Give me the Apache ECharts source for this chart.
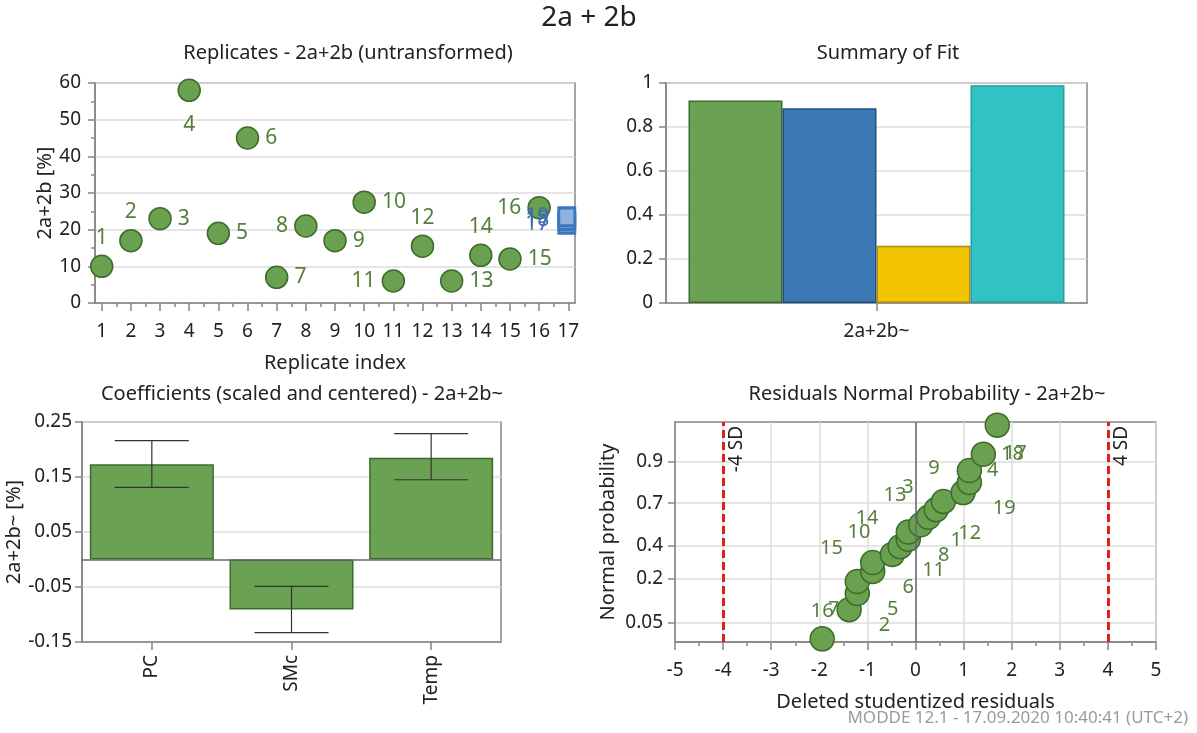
<!DOCTYPE html>
<html>
<head>
<meta charset="utf-8">
<script src="https://cdn.jsdelivr.net/npm/echarts@6/dist/echarts.min.js"></script>
<style>
html, body { margin: 0; padding: 0; background: #fff; }
#main { width: 1197px; height: 733px; }
</style>
</head>
<body>
<div id="main"></div>
<script>
// Replicates plot
var repIndex = [1, 2, 3, 4, 5, 6, 7, 8, 9, 10, 11, 12, 13, 14, 15, 16];
var repValues = [10, 17, 23, 58, 19, 45, 7, 21, 17, 27.5, 6, 15.5, 6, 13, 12, 26];
var repLabelPos = ['top', 'top', 'right', 'bottom', 'right', 'right', 'right', 'left',
                   'right', 'right', 'left', 'top', 'right', 'top', 'right', 'left'];
var centerIndex = [17, 17, 17];
var centerValues = [21.5, 22.5, 23.5];
var centerNames = ['17', '18', '19'];
var repTicks = [1, 2, 3, 4, 5, 6, 7, 8, 9, 10, 11, 12, 13, 14, 15, 16, 17];

// Summary of fit
var fitCategory = ['2a+2b~'];
var fitNames = ['R2', 'Q2', 'Model validity', 'Reproducibility'];
var fitValues = [0.92, 0.885, 0.26, 0.99];

// Coefficients
var coefTerms = ['PC', 'SMc', 'Temp'];
var coefValues = [0.173, -0.091, 0.185];
var coefLow = [0.131, -0.133, 0.145];
var coefHigh = [0.216, -0.049, 0.229];

// Residuals normal probability (sorted by rank)
var resX = [-1.94, -1.38, -1.21, -1.21, -0.89, -0.89, -0.48, -0.32, -0.15, -0.15,
            0.11, 0.27, 0.43, 0.58, 0.99, 1.12, 1.12, 1.41, 1.70];
var resProb = [0.026, 0.079, 0.132, 0.184, 0.237, 0.289, 0.342, 0.395, 0.447, 0.5,
               0.553, 0.605, 0.658, 0.711, 0.763, 0.816, 0.868, 0.921, 0.974];
var resNames = ['16', '2', '5', '7', '6', '15', '11', '10', '8', '14',
                '1', '12', '13', '3', '19', '9', '4', '18', '17'];
var resLabelSide = ['t', 'lr', 'lr', 'bl', 'lr', 'ul', 'lr', 'ul', 'lr', 'ul',
                    'lr', 'lr', 'ul', 'ul', 'lr', 'ul', 'r', 'r', 'br'];
var probTicks = [0.05, 0.2, 0.4, 0.7, 0.9];
var sdLimits = [-4, 4];

var FONT = "'Noto Sans', 'Open Sans', sans-serif";
var TXT = '#222';
var AXC = '#858585';
var GRIDC = '#dcdcdc';
var GREEN = '#6aa150', GREEN_B = '#3d6b2b', LBL_G = '#557f3b';
var TICK_FS = 19, TITLE_FS = 20, NAME_FS = 20;

// inverse normal (probit scale for the probability axis)
function probit(p) {
    var a = [-3.969683028665376e+01, 2.209460984245205e+02, -2.759285104469687e+02, 1.383577518672690e+02, -3.066479806614716e+01, 2.506628277459239e+00];
    var b = [-5.447609879822406e+01, 1.615858368580409e+02, -1.556989798598866e+02, 6.680131188771972e+01, -1.328068155833025e+01];
    var c = [-7.784894002430293e-03, -3.223964580411365e-01, -2.400758277161838e+00, -2.549671010335056e+00, 4.374664141464968e+00, 2.938163982698783e+00];
    var d = [7.784695709041462e-03, 3.224671290700398e-01, 2.445134137142996e+00, 3.754408661907416e+00];
    var pl = 0.02425, q, r;
    if (p < pl) {
        q = Math.sqrt(-2 * Math.log(p));
        return (((((c[0]*q+c[1])*q+c[2])*q+c[3])*q+c[4])*q+c[5]) / ((((d[0]*q+d[1])*q+d[2])*q+d[3])*q+1);
    }
    if (p > 1 - pl) {
        q = Math.sqrt(-2 * Math.log(1 - p));
        return -(((((c[0]*q+c[1])*q+c[2])*q+c[3])*q+c[4])*q+c[5]) / ((((d[0]*q+d[1])*q+d[2])*q+d[3])*q+1);
    }
    q = p - 0.5; r = q * q;
    return (((((a[0]*r+a[1])*r+a[2])*r+a[3])*r+a[4])*r+a[5])*q / (((((b[0]*r+b[1])*r+b[2])*r+b[3])*r+b[4])*r+1);
}
var probTickZ = probTicks.map(probit);

// where the residual point labels sit
var sideStyle = {
    t:  { position: 'top', offset: [0, 0] },
    lr: { position: 'right', offset: [12, 16] },
    ul: { position: 'left', offset: [-12, -14] },
    bl: { position: 'left', offset: [0, 28] },
    r:  { position: 'right', offset: [0, 0] },
    br: { position: 'bottom', offset: [18, 0] }
};

var halfTicks = [];
for (var i = 1; i < 17; i++) halfTicks.push(i + 0.5);

function axisBase(extra) {
    var o = {
        axisLine: { show: true, onZero: false, lineStyle: { color: AXC, width: 1.5 } },
        axisTick: { show: true, inside: false, length: 7, lineStyle: { color: AXC, width: 1.5 } },
        axisLabel: { color: TXT, fontSize: TICK_FS, fontFamily: FONT, margin: 12 },
        splitLine: { show: false },
        nameTextStyle: { color: TXT, fontSize: NAME_FS, fontFamily: FONT }
    };
    for (var k in extra) o[k] = extra[k];
    return o;
}
function titleAt(text, x, y, size) {
    return { text: text, left: x, top: y, textAlign: 'center',
             textStyle: { fontSize: size, fontWeight: 'normal', color: TXT, fontFamily: FONT } };
}

var myChart = echarts.init(document.getElementById('main'));

var option = {
    animation: false,
    backgroundColor: '#fff',
    textStyle: { fontFamily: FONT },
    title: [
        titleAt('2a + 2b', 584, -1, 28),
        titleAt('Replicates - 2a+2b (untransformed)', 343, 38, TITLE_FS),
        titleAt('Summary of Fit', 883, 38, TITLE_FS),
        titleAt('Coefficients (scaled and centered) - 2a+2b~', 297, 379, TITLE_FS),
        titleAt('Residuals Normal Probability - 2a+2b~', 922, 379, TITLE_FS)
    ],
    graphic: [{
        type: 'text', right: 9, top: 710,
        style: { text: 'MODDE 12.1 - 17.09.2020 10:40:41 (UTC+2)', fill: '#9a9a9a', font: '17px ' + FONT }
    }],
    grid: [
        { left: 95, top: 83, width: 480, height: 220, show: true, borderColor: AXC, borderWidth: 1.5 },
        { left: 666, top: 83, width: 421, height: 220, show: true, borderColor: AXC, borderWidth: 1.5 },
        { left: 82, top: 422, width: 419, height: 220, show: true, borderColor: AXC, borderWidth: 1.5 },
        { left: 675, top: 422, width: 481, height: 220, show: true, borderColor: AXC, borderWidth: 1.5 }
    ],
    xAxis: [
        axisBase({
            type: 'value', gridIndex: 0, min: 0.77, max: 17.23,
            name: 'Replicate index', nameLocation: 'middle', nameGap: 50,
            axisTick: { show: true, length: 8, customValues: repTicks, lineStyle: { color: AXC, width: 1.5 } },
            axisLabel: { color: TXT, fontSize: TICK_FS, fontFamily: FONT, margin: 19, customValues: repTicks }
        }),
        axisBase({
            type: 'category', gridIndex: 1, data: fitCategory,
            axisTick: { show: true, alignWithLabel: true, length: 8, lineStyle: { color: AXC, width: 1.5 } },
            axisLabel: { color: TXT, fontSize: TICK_FS, fontFamily: FONT, margin: 19 }
        }),
        axisBase({
            type: 'category', gridIndex: 2, data: coefTerms,
            axisTick: { show: true, alignWithLabel: true, length: 8, lineStyle: { color: AXC, width: 1.5 } },
            axisLabel: { color: TXT, fontSize: TICK_FS, fontFamily: FONT, rotate: 90, margin: 13 }
        }),
        axisBase({
            type: 'value', gridIndex: 3, min: -5, max: 5, interval: 1,
            name: 'Deleted studentized residuals', nameLocation: 'middle', nameGap: 50,
            axisTick: { show: true, length: 8, lineStyle: { color: AXC, width: 1.5 } },
            axisLabel: { color: TXT, fontSize: TICK_FS, fontFamily: FONT, margin: 19 },
            minorTick: { show: true, splitNumber: 2, length: 4, lineStyle: { color: AXC, width: 1.5 } },
            splitLine: { show: true, lineStyle: { color: GRIDC, width: 1.5 } }
        }),
        // minor ticks for the replicate axis
        {
            type: 'value', gridIndex: 0, min: 0.77, max: 17.23, position: 'bottom',
            axisLine: { show: false }, axisLabel: { show: false }, splitLine: { show: false },
            axisTick: { show: true, length: 4, customValues: halfTicks, lineStyle: { color: AXC, width: 1.5 } }
        }
    ],
    yAxis: [
        axisBase({
            type: 'value', gridIndex: 0, min: 0, max: 60, interval: 10,
            name: '2a+2b [%]', nameLocation: 'middle', nameGap: 40,
            axisLabel: { color: TXT, fontSize: TICK_FS, fontFamily: FONT, margin: 14 },
            minorTick: { show: true, splitNumber: 2, length: 4, lineStyle: { color: AXC, width: 1.5 } },
            splitLine: { show: true, lineStyle: { color: GRIDC, width: 1.5 } }
        }),
        axisBase({
            type: 'value', gridIndex: 1, min: 0, max: 1, interval: 0.2,
            axisLabel: { color: TXT, fontSize: TICK_FS, fontFamily: FONT, margin: 13 },
            splitLine: { show: true, lineStyle: { color: GRIDC, width: 1.5 } }
        }),
        axisBase({
            type: 'value', gridIndex: 2, min: -0.15, max: 0.25, interval: 0.1,
            name: '2a+2b~ [%]', nameLocation: 'middle', nameGap: 53,
            axisLabel: { color: TXT, fontSize: TICK_FS, fontFamily: FONT, margin: 10,
                formatter: function (v) { return (Math.round(v * 100) / 100).toFixed(2); } },
            splitLine: { show: true, lineStyle: { color: GRIDC, width: 1.5 } }
        }),
        axisBase({
            type: 'value', gridIndex: 3, min: -2, max: 2,
            name: 'Normal probability', nameLocation: 'middle', nameGap: 57,
            axisTick: { show: true, length: 7, customValues: probTickZ, lineStyle: { color: AXC, width: 1.5 } },
            axisLabel: { color: TXT, fontSize: TICK_FS, fontFamily: FONT, margin: 12, customValues: probTickZ,
                formatter: function (v) {
                    var best = 0;
                    for (var k = 1; k < probTickZ.length; k++) {
                        if (Math.abs(probTickZ[k] - v) < Math.abs(probTickZ[best] - v)) best = k;
                    }
                    return String(probTicks[best]);
                } },
            splitLine: { show: true, lineStyle: { color: GRIDC, width: 1.5 } }
        })
    ],
    series: [
        {
            type: 'scatter', xAxisIndex: 0, yAxisIndex: 0, symbolSize: 22, z: 3,
            itemStyle: { color: GREEN, borderColor: GREEN_B, borderWidth: 1.5, opacity: 1 },
            label: { show: true, color: LBL_G, fontSize: 21, fontFamily: FONT, distance: 6,
                formatter: function (p) { return String(p.value[0]); } },
            data: repIndex.map(function (x, i) {
                var pos = repLabelPos[i];
                return { value: [x, repValues[i]],
                         label: { position: pos, distance: pos === 'bottom' ? 12 : 6 } };
            })
        },
        {
            type: 'scatter', xAxisIndex: 0, yAxisIndex: 0, symbol: 'rect',
            symbolSize: [16, 18], symbolOffset: [-1.5, 0], z: 3,
            itemStyle: { color: '#8fb3de', borderColor: '#3b77bd', borderWidth: 3, opacity: 1 },
            label: { show: true, position: 'left', color: '#3f6fae', fontSize: 21, fontFamily: FONT, distance: 8,
                formatter: function (p) { return p.name; } },
            data: centerIndex.map(function (x, i) {
                return { name: centerNames[i], value: [x, centerValues[i]] };
            })
        },
        {
            name: fitNames[0], type: 'bar', xAxisIndex: 1, yAxisIndex: 1, barWidth: 94, barGap: '0%',
            itemStyle: { color: '#6aa152', borderColor: '#3d6b2e', borderWidth: 1.5 },
            data: [fitValues[0]]
        },
        {
            name: fitNames[1], type: 'bar', xAxisIndex: 1, yAxisIndex: 1, barWidth: 94, barGap: '0%',
            itemStyle: { color: '#3b78b4', borderColor: '#1f4f80', borderWidth: 1.5 },
            data: [fitValues[1]]
        },
        {
            name: fitNames[2], type: 'bar', xAxisIndex: 1, yAxisIndex: 1, barWidth: 94, barGap: '0%',
            itemStyle: { color: '#f3c400', borderColor: '#a48a1f', borderWidth: 1.5 },
            data: [fitValues[2]]
        },
        {
            name: fitNames[3], type: 'bar', xAxisIndex: 1, yAxisIndex: 1, barWidth: 94, barGap: '0%',
            itemStyle: { color: '#31c3c3', borderColor: '#24a0a0', borderWidth: 1.5 },
            data: [fitValues[3]]
        },
        {
            type: 'bar', xAxisIndex: 2, yAxisIndex: 2, barWidth: 124,
            itemStyle: { color: '#6aa152', borderColor: '#3d6b2e', borderWidth: 1.5 },
            data: coefValues,
            markLine: {
                silent: true, symbol: ['none', 'none'], label: { show: false },
                lineStyle: { color: '#666', type: 'solid', width: 1.5 },
                data: [{ yAxis: 0 }]
            }
        },
        {
            type: 'custom', xAxisIndex: 2, yAxisIndex: 2, z: 10,
            data: coefTerms.map(function (t, i) { return [i, coefLow[i], coefHigh[i]]; }),
            renderItem: function (params, api) {
                var lo = api.coord([api.value(0), api.value(1)]);
                var hi = api.coord([api.value(0), api.value(2)]);
                var half = 37;
                var st = { stroke: '#333', lineWidth: 1.2 };
                return {
                    type: 'group',
                    children: [
                        { type: 'line', shape: { x1: lo[0], y1: lo[1], x2: hi[0], y2: hi[1] }, style: st },
                        { type: 'line', shape: { x1: lo[0] - half, y1: lo[1], x2: lo[0] + half, y2: lo[1] }, style: st },
                        { type: 'line', shape: { x1: hi[0] - half, y1: hi[1], x2: hi[0] + half, y2: hi[1] }, style: st }
                    ]
                };
            }
        },
        {
            type: 'scatter', xAxisIndex: 3, yAxisIndex: 3, symbolSize: 24, z: 4,
            itemStyle: { color: GREEN, borderColor: GREEN_B, borderWidth: 1.5, opacity: 1 },
            label: { show: true, color: LBL_G, fontSize: 20, fontFamily: FONT, distance: 5,
                formatter: function (p) { return p.name; } },
            data: resX.map(function (x, i) {
                var s = sideStyle[resLabelSide[i]];
                return { name: resNames[i], value: [x, probit(resProb[i])],
                         label: { position: s.position, offset: s.offset } };
            }),
            markLine: {
                silent: true, symbol: ['none', 'none'],
                data: [
                    { xAxis: 0, lineStyle: { color: '#666', type: 'solid', width: 1.5 }, label: { show: false } },
                    { xAxis: sdLimits[0], lineStyle: { color: '#e3211c', type: [8, 4], width: 3 },
                      label: { show: true, formatter: '-4 SD', position: 'insideEndBottom', distance: 4,
                               color: TXT, fontSize: 19, fontFamily: FONT } },
                    { xAxis: sdLimits[1], lineStyle: { color: '#e3211c', type: [8, 4], width: 3 },
                      label: { show: true, formatter: '4 SD', position: 'insideEndBottom', distance: 4,
                               color: TXT, fontSize: 19, fontFamily: FONT } }
                ]
            }
        }
    ]
};

myChart.setOption(option);
</script>
</body>
</html>
